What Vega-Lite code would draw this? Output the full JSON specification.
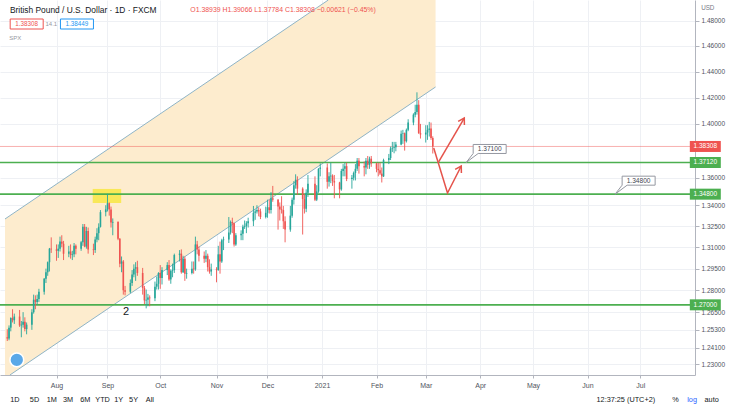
{
"$schema":"https://vega.github.io/schema/vega-lite/v6.json",
"width":695,"height":375,"autosize":"none",
"padding":{"left":0,"top":0,"right":35,"bottom":35},
"background":"#ffffff",
"config":{"view":{"stroke":null},"font":"Liberation Sans","text":{"font":"Liberation Sans"}},
"datasets":{
"candles":[
{"d":"2020-07-06","o":1.2480,"h":1.2534,"l":1.2455,"c":1.2472},
{"d":"2020-07-07","o":1.2472,"h":1.2560,"l":1.2460,"c":1.2545},
{"d":"2020-07-08","o":1.2545,"h":1.2615,"l":1.2520,"c":1.2610},
{"d":"2020-07-09","o":1.2610,"h":1.2670,"l":1.2580,"c":1.2595},
{"d":"2020-07-10","o":1.2595,"h":1.2640,"l":1.2570,"c":1.2620},
{"d":"2020-07-13","o":1.2620,"h":1.2665,"l":1.2550,"c":1.2560},
{"d":"2020-07-14","o":1.2560,"h":1.2590,"l":1.2480,"c":1.2565},
{"d":"2020-07-15","o":1.2565,"h":1.2650,"l":1.2545,"c":1.2585},
{"d":"2020-07-16","o":1.2585,"h":1.2615,"l":1.2520,"c":1.2535},
{"d":"2020-07-17","o":1.2535,"h":1.2580,"l":1.2500,"c":1.2565},
{"d":"2020-07-20","o":1.2565,"h":1.2670,"l":1.2530,"c":1.2650},
{"d":"2020-07-21","o":1.2650,"h":1.2770,"l":1.2640,"c":1.2735},
{"d":"2020-07-22","o":1.2735,"h":1.2765,"l":1.2670,"c":1.2720},
{"d":"2020-07-23","o":1.2720,"h":1.2770,"l":1.2700,"c":1.2740},
{"d":"2020-07-24","o":1.2740,"h":1.2810,"l":1.2720,"c":1.2790},
{"d":"2020-07-27","o":1.2790,"h":1.2885,"l":1.2770,"c":1.2880},
{"d":"2020-07-28","o":1.2880,"h":1.2950,"l":1.2850,"c":1.2925},
{"d":"2020-07-29","o":1.2925,"h":1.3000,"l":1.2900,"c":1.2995},
{"d":"2020-07-30","o":1.2995,"h":1.3095,"l":1.2930,"c":1.3090},
{"d":"2020-07-31","o":1.3090,"h":1.3170,"l":1.3060,"c":1.3085},
{"d":"2020-08-03","o":1.3085,"h":1.3120,"l":1.3005,"c":1.3075},
{"d":"2020-08-04","o":1.3075,"h":1.3120,"l":1.3025,"c":1.3090},
{"d":"2020-08-05","o":1.3090,"h":1.3175,"l":1.3070,"c":1.3140},
{"d":"2020-08-06","o":1.3140,"h":1.3185,"l":1.3100,"c":1.3125},
{"d":"2020-08-07","o":1.3125,"h":1.3145,"l":1.3010,"c":1.3055},
{"d":"2020-08-10","o":1.3055,"h":1.3110,"l":1.3030,"c":1.3070},
{"d":"2020-08-11","o":1.3070,"h":1.3120,"l":1.3020,"c":1.3045},
{"d":"2020-08-12","o":1.3045,"h":1.3075,"l":1.3010,"c":1.3050},
{"d":"2020-08-13","o":1.3050,"h":1.3130,"l":1.3030,"c":1.3110},
{"d":"2020-08-14","o":1.3110,"h":1.3120,"l":1.3050,"c":1.3090},
{"d":"2020-08-17","o":1.3090,"h":1.3145,"l":1.3075,"c":1.3135},
{"d":"2020-08-18","o":1.3135,"h":1.3265,"l":1.3110,"c":1.3245},
{"d":"2020-08-19","o":1.3245,"h":1.3265,"l":1.3100,"c":1.3105},
{"d":"2020-08-20","o":1.3105,"h":1.3245,"l":1.3090,"c":1.3215},
{"d":"2020-08-21","o":1.3215,"h":1.3240,"l":1.3055,"c":1.3085},
{"d":"2020-08-24","o":1.3085,"h":1.3125,"l":1.3045,"c":1.3080},
{"d":"2020-08-25","o":1.3080,"h":1.3175,"l":1.3060,"c":1.3155},
{"d":"2020-08-26","o":1.3155,"h":1.3235,"l":1.3135,"c":1.3200},
{"d":"2020-08-27","o":1.3200,"h":1.3270,"l":1.3150,"c":1.3245},
{"d":"2020-08-28","o":1.3245,"h":1.3365,"l":1.3240,"c":1.3350},
{"d":"2020-08-31","o":1.3350,"h":1.3400,"l":1.3320,"c":1.3370},
{"d":"2020-09-01","o":1.3370,"h":1.3482,"l":1.3355,"c":1.3415},
{"d":"2020-09-02","o":1.3415,"h":1.3420,"l":1.3325,"c":1.3370},
{"d":"2020-09-03","o":1.3370,"h":1.3390,"l":1.3240,"c":1.3275},
{"d":"2020-09-04","o":1.3275,"h":1.3305,"l":1.3185,"c":1.3280},
{"d":"2020-09-07","o":1.3280,"h":1.3285,"l":1.3150,"c":1.3160},
{"d":"2020-09-08","o":1.3160,"h":1.3165,"l":1.2960,"c":1.2985},
{"d":"2020-09-09","o":1.2985,"h":1.3035,"l":1.2925,"c":1.3000},
{"d":"2020-09-10","o":1.3000,"h":1.3010,"l":1.2770,"c":1.2800},
{"d":"2020-09-11","o":1.2800,"h":1.2830,"l":1.2765,"c":1.2790},
{"d":"2020-09-14","o":1.2790,"h":1.2875,"l":1.2780,"c":1.2850},
{"d":"2020-09-15","o":1.2850,"h":1.2940,"l":1.2830,"c":1.2910},
{"d":"2020-09-16","o":1.2910,"h":1.2980,"l":1.2890,"c":1.2950},
{"d":"2020-09-17","o":1.2950,"h":1.2995,"l":1.2865,"c":1.2960},
{"d":"2020-09-18","o":1.2960,"h":1.3005,"l":1.2900,"c":1.2920},
{"d":"2020-09-21","o":1.2920,"h":1.2955,"l":1.2770,"c":1.2815},
{"d":"2020-09-22","o":1.2815,"h":1.2830,"l":1.2705,"c":1.2730},
{"d":"2020-09-23","o":1.2730,"h":1.2805,"l":1.2676,"c":1.2735},
{"d":"2020-09-24","o":1.2735,"h":1.2775,"l":1.2690,"c":1.2750},
{"d":"2020-09-25","o":1.2750,"h":1.2765,"l":1.2690,"c":1.2745},
{"d":"2020-09-28","o":1.2745,"h":1.2860,"l":1.2725,"c":1.2825},
{"d":"2020-09-29","o":1.2825,"h":1.2895,"l":1.2805,"c":1.2845},
{"d":"2020-09-30","o":1.2845,"h":1.2925,"l":1.2805,"c":1.2920},
{"d":"2020-10-01","o":1.2920,"h":1.2975,"l":1.2810,"c":1.2885},
{"d":"2020-10-02","o":1.2885,"h":1.2960,"l":1.2840,"c":1.2940},
{"d":"2020-10-05","o":1.2940,"h":1.2995,"l":1.2905,"c":1.2975},
{"d":"2020-10-06","o":1.2975,"h":1.3010,"l":1.2865,"c":1.2875},
{"d":"2020-10-07","o":1.2875,"h":1.2945,"l":1.2845,"c":1.2935},
{"d":"2020-10-08","o":1.2935,"h":1.2985,"l":1.2890,"c":1.2940},
{"d":"2020-10-09","o":1.2940,"h":1.3055,"l":1.2920,"c":1.3045},
{"d":"2020-10-12","o":1.3045,"h":1.3080,"l":1.3000,"c":1.3055},
{"d":"2020-10-13","o":1.3055,"h":1.3085,"l":1.2915,"c":1.2925},
{"d":"2020-10-14","o":1.2925,"h":1.3040,"l":1.2920,"c":1.3020},
{"d":"2020-10-15","o":1.3020,"h":1.3035,"l":1.2865,"c":1.2915},
{"d":"2020-10-16","o":1.2915,"h":1.2950,"l":1.2880,"c":1.2920},
{"d":"2020-10-19","o":1.2920,"h":1.3000,"l":1.2910,"c":1.2950},
{"d":"2020-10-20","o":1.2950,"h":1.3000,"l":1.2915,"c":1.2945},
{"d":"2020-10-21","o":1.2945,"h":1.3175,"l":1.2935,"c":1.3120},
{"d":"2020-10-22","o":1.3120,"h":1.3145,"l":1.3050,"c":1.3085},
{"d":"2020-10-23","o":1.3085,"h":1.3105,"l":1.3000,"c":1.3040},
{"d":"2020-10-26","o":1.3040,"h":1.3070,"l":1.2990,"c":1.3020},
{"d":"2020-10-27","o":1.3020,"h":1.3080,"l":1.2995,"c":1.3040},
{"d":"2020-10-28","o":1.3040,"h":1.3055,"l":1.2930,"c":1.2960},
{"d":"2020-10-29","o":1.2960,"h":1.3015,"l":1.2915,"c":1.2930},
{"d":"2020-10-30","o":1.2930,"h":1.2985,"l":1.2900,"c":1.2945},
{"d":"2020-11-02","o":1.2945,"h":1.2960,"l":1.2855,"c":1.2940},
{"d":"2020-11-03","o":1.2940,"h":1.3110,"l":1.2935,"c":1.3050},
{"d":"2020-11-04","o":1.3050,"h":1.3140,"l":1.2915,"c":1.3000},
{"d":"2020-11-05","o":1.3000,"h":1.3160,"l":1.2990,"c":1.3150},
{"d":"2020-11-06","o":1.3150,"h":1.3175,"l":1.3080,"c":1.3155},
{"d":"2020-11-09","o":1.3155,"h":1.3315,"l":1.3130,"c":1.3205},
{"d":"2020-11-10","o":1.3205,"h":1.3290,"l":1.3190,"c":1.3280},
{"d":"2020-11-11","o":1.3280,"h":1.3310,"l":1.3200,"c":1.3270},
{"d":"2020-11-12","o":1.3270,"h":1.3275,"l":1.3105,"c":1.3120},
{"d":"2020-11-13","o":1.3120,"h":1.3200,"l":1.3110,"c":1.3185},
{"d":"2020-11-16","o":1.3185,"h":1.3220,"l":1.3150,"c":1.3195},
{"d":"2020-11-17","o":1.3195,"h":1.3260,"l":1.3150,"c":1.3245},
{"d":"2020-11-18","o":1.3245,"h":1.3290,"l":1.3230,"c":1.3250},
{"d":"2020-11-19","o":1.3250,"h":1.3285,"l":1.3200,"c":1.3270},
{"d":"2020-11-20","o":1.3270,"h":1.3310,"l":1.3240,"c":1.3285},
{"d":"2020-11-23","o":1.3285,"h":1.3395,"l":1.3250,"c":1.3345},
{"d":"2020-11-24","o":1.3345,"h":1.3370,"l":1.3295,"c":1.3355},
{"d":"2020-11-25","o":1.3355,"h":1.3400,"l":1.3340,"c":1.3365},
{"d":"2020-11-26","o":1.3365,"h":1.3385,"l":1.3320,"c":1.3355},
{"d":"2020-11-27","o":1.3355,"h":1.3375,"l":1.3300,"c":1.3315},
{"d":"2020-11-30","o":1.3315,"h":1.3390,"l":1.3305,"c":1.3345},
{"d":"2020-12-01","o":1.3345,"h":1.3440,"l":1.3310,"c":1.3385},
{"d":"2020-12-02","o":1.3385,"h":1.3440,"l":1.3340,"c":1.3365},
{"d":"2020-12-03","o":1.3365,"h":1.3495,"l":1.3340,"c":1.3450},
{"d":"2020-12-04","o":1.3450,"h":1.3540,"l":1.3425,"c":1.3440},
{"d":"2020-12-07","o":1.3440,"h":1.3445,"l":1.3225,"c":1.3390},
{"d":"2020-12-08","o":1.3390,"h":1.3420,"l":1.3290,"c":1.3370},
{"d":"2020-12-09","o":1.3370,"h":1.3465,"l":1.3340,"c":1.3365},
{"d":"2020-12-10","o":1.3365,"h":1.3395,"l":1.3230,"c":1.3285},
{"d":"2020-12-11","o":1.3285,"h":1.3320,"l":1.3135,"c":1.3225},
{"d":"2020-12-14","o":1.3225,"h":1.3395,"l":1.3210,"c":1.3325},
{"d":"2020-12-15","o":1.3325,"h":1.3455,"l":1.3310,"c":1.3440},
{"d":"2020-12-16","o":1.3440,"h":1.3575,"l":1.3405,"c":1.3545},
{"d":"2020-12-17","o":1.3545,"h":1.3625,"l":1.3520,"c":1.3585},
{"d":"2020-12-18","o":1.3585,"h":1.3610,"l":1.3475,"c":1.3520},
{"d":"2020-12-21","o":1.3520,"h":1.3530,"l":1.3190,"c":1.3445},
{"d":"2020-12-22","o":1.3445,"h":1.3480,"l":1.3340,"c":1.3375},
{"d":"2020-12-23","o":1.3375,"h":1.3515,"l":1.3350,"c":1.3490},
{"d":"2020-12-24","o":1.3490,"h":1.3620,"l":1.3460,"c":1.3555},
{"d":"2020-12-28","o":1.3555,"h":1.3610,"l":1.3430,"c":1.3440},
{"d":"2020-12-29","o":1.3440,"h":1.3545,"l":1.3430,"c":1.3500},
{"d":"2020-12-30","o":1.3500,"h":1.3670,"l":1.3490,"c":1.3665},
{"d":"2020-12-31","o":1.3665,"h":1.3705,"l":1.3610,"c":1.3675},
{"d":"2021-01-04","o":1.3675,"h":1.3705,"l":1.3520,"c":1.3570},
{"d":"2021-01-05","o":1.3570,"h":1.3640,"l":1.3535,"c":1.3610},
{"d":"2021-01-06","o":1.3610,"h":1.3710,"l":1.3560,"c":1.3615},
{"d":"2021-01-07","o":1.3615,"h":1.3625,"l":1.3540,"c":1.3575},
{"d":"2021-01-08","o":1.3575,"h":1.3620,"l":1.3450,"c":1.3565},
{"d":"2021-01-11","o":1.3565,"h":1.3570,"l":1.3450,"c":1.3515},
{"d":"2021-01-12","o":1.3515,"h":1.3665,"l":1.3505,"c":1.3650},
{"d":"2021-01-13","o":1.3650,"h":1.3700,"l":1.3610,"c":1.3665},
{"d":"2021-01-14","o":1.3665,"h":1.3710,"l":1.3610,"c":1.3685},
{"d":"2021-01-15","o":1.3685,"h":1.3710,"l":1.3575,"c":1.3590},
{"d":"2021-01-18","o":1.3590,"h":1.3620,"l":1.3520,"c":1.3600},
{"d":"2021-01-19","o":1.3600,"h":1.3645,"l":1.3580,"c":1.3635},
{"d":"2021-01-20","o":1.3635,"h":1.3700,"l":1.3580,"c":1.3665},
{"d":"2021-01-21","o":1.3665,"h":1.3745,"l":1.3650,"c":1.3725},
{"d":"2021-01-22","o":1.3725,"h":1.3745,"l":1.3630,"c":1.3685},
{"d":"2021-01-25","o":1.3685,"h":1.3720,"l":1.3610,"c":1.3675},
{"d":"2021-01-26","o":1.3675,"h":1.3745,"l":1.3625,"c":1.3725},
{"d":"2021-01-27","o":1.3725,"h":1.3760,"l":1.3665,"c":1.3695},
{"d":"2021-01-28","o":1.3695,"h":1.3755,"l":1.3665,"c":1.3740},
{"d":"2021-01-29","o":1.3740,"h":1.3760,"l":1.3680,"c":1.3705},
{"d":"2021-02-01","o":1.3705,"h":1.3710,"l":1.3640,"c":1.3665},
{"d":"2021-02-02","o":1.3665,"h":1.3710,"l":1.3610,"c":1.3655},
{"d":"2021-02-03","o":1.3655,"h":1.3710,"l":1.3620,"c":1.3630},
{"d":"2021-02-04","o":1.3630,"h":1.3675,"l":1.3565,"c":1.3610},
{"d":"2021-02-05","o":1.3610,"h":1.3740,"l":1.3605,"c":1.3730},
{"d":"2021-02-08","o":1.3730,"h":1.3775,"l":1.3700,"c":1.3745},
{"d":"2021-02-09","o":1.3745,"h":1.3830,"l":1.3730,"c":1.3815},
{"d":"2021-02-10","o":1.3815,"h":1.3865,"l":1.3790,"c":1.3820},
{"d":"2021-02-11","o":1.3820,"h":1.3865,"l":1.3780,"c":1.3825},
{"d":"2021-02-12","o":1.3825,"h":1.3865,"l":1.3795,"c":1.3845},
{"d":"2021-02-15","o":1.3845,"h":1.3950,"l":1.3840,"c":1.3925},
{"d":"2021-02-16","o":1.3925,"h":1.3955,"l":1.3850,"c":1.3930},
{"d":"2021-02-17","o":1.3930,"h":1.3935,"l":1.3800,"c":1.3870},
{"d":"2021-02-18","o":1.3870,"h":1.3965,"l":1.3860,"c":1.3955},
{"d":"2021-02-19","o":1.3955,"h":1.4035,"l":1.3945,"c":1.4010},
{"d":"2021-02-22","o":1.4010,"h":1.4080,"l":1.3990,"c":1.4070},
{"d":"2021-02-23","o":1.4070,"h":1.4145,"l":1.4050,"c":1.4090},
{"d":"2021-02-24","o":1.4090,"h":1.4240,"l":1.4070,"c":1.4145},
{"d":"2021-02-25","o":1.4145,"h":1.4180,"l":1.3925,"c":1.3930},
{"d":"2021-02-26","o":1.3930,"h":1.4000,"l":1.3890,"c":1.3920},
{"d":"2021-03-01","o":1.3920,"h":1.3990,"l":1.3860,"c":1.3935},
{"d":"2021-03-02","o":1.3935,"h":1.3990,"l":1.3880,"c":1.3955},
{"d":"2021-03-03","o":1.3955,"h":1.4015,"l":1.3905,"c":1.3965},
{"d":"2021-03-04","o":1.3965,"h":1.4010,"l":1.3880,"c":1.3894},
{"d":"2021-03-05","o":1.38939,"h":1.39066,"l":1.37784,"c":1.38308}
],
"levels":[{"p":1.3712},{"p":1.348},{"p":1.27}],
"pricetags":[
{"p":1.38308,"label":"1.38308","kind":"last"},
{"p":1.3712,"label":"1.37120","kind":"level"},
{"p":1.348,"label":"1.34800","kind":"level"},
{"p":1.27,"label":"1.27000","kind":"level"}
],
"arrows":[
{"id":"a1","i":0,"d":"2021-03-08T08:00:00Z","p":1.3716},
{"id":"a1","i":1,"d":"2021-03-22T22:00:00Z","p":1.4044},
{"id":"a2","i":0,"d":"2021-03-05T13:00:00Z","p":1.3820},
{"id":"a2","i":1,"d":"2021-03-13T09:00:00Z","p":1.3488},
{"id":"a2","i":2,"d":"2021-03-21T05:00:00Z","p":1.3686}
],
"heads":[
{"d":"2021-03-22T22:00:00Z","p":1.4044},
{"d":"2021-03-21T05:00:00Z","p":1.3686}
],
"callouts":[
{"d":"2021-03-24T00:00:00Z","p":1.3712,"label":"1.37100"},
{"d":"2021-06-16T17:00:00Z","p":1.348,"label":"1.34800"}
],
"toolbar":[
{"d":"2020-07-10T07:00:00Z","p":1.20658,"label":"1D","kind":"n"},
{"d":"2020-07-21T12:00:00Z","p":1.20658,"label":"5D","kind":"n"},
{"d":"2020-07-31T08:00:00Z","p":1.20658,"label":"1M","kind":"n"},
{"d":"2020-08-09T14:00:00Z","p":1.20658,"label":"3M","kind":"n"},
{"d":"2020-08-19T09:00:00Z","p":1.20658,"label":"6M","kind":"n"},
{"d":"2020-08-29T05:00:00Z","p":1.20658,"label":"YTD","kind":"n"},
{"d":"2020-09-07T10:00:00Z","p":1.20658,"label":"1Y","kind":"n"},
{"d":"2020-09-15T20:00:00Z","p":1.20658,"label":"5Y","kind":"n"},
{"d":"2020-09-25T02:00:00Z","p":1.20658,"label":"All","kind":"n"},
{"d":"2021-06-22T19:00:00Z","p":1.20658,"label":"12:37:25 (UTC+2)","kind":"n"},
{"d":"2021-07-21T00:00:00Z","p":1.20658,"label":"%","kind":"n"},
{"d":"2021-07-30T12:00:00Z","p":1.20658,"label":"log","kind":"on"},
{"d":"2021-08-10T14:00:00Z","p":1.20658,"label":"auto","kind":"n"}
]
},
"layer":[
{
"data":{"values":[
{"d":"2020-07-04T17:00:00Z","p":1.2229,"p2":1.3301},
{"d":"2020-07-07T12:00:00Z","p":1.2229,"p2":1.3325},
{"d":"2021-01-04T14:00:00Z","p":1.3733,"p2":1.4966},
{"d":"2021-03-06T14:00:00Z","p":1.4281,"p2":1.4966}
]},
"mark":{"type":"area","color":"#fdecce","opacity":1},
"encoding":{
"x":{"field":"d","type":"temporal","title":null,
"scale":{"type":"utc","domain":[{"year":2020,"month":7,"date":4,"hours":17,"utc":true},{"year":2021,"month":7,"date":29,"hours":7,"utc":true}]},
"axis":{"values":[
{"year":2020,"month":8,"date":3,"utc":true},{"year":2020,"month":9,"date":1,"utc":true},{"year":2020,"month":10,"date":1,"utc":true},{"year":2020,"month":11,"date":2,"utc":true},{"year":2020,"month":12,"date":1,"utc":true},{"year":2021,"month":1,"date":1,"utc":true},{"year":2021,"month":2,"date":1,"utc":true},{"year":2021,"month":3,"date":1,"utc":true},{"year":2021,"month":4,"date":1,"utc":true},{"year":2021,"month":5,"date":1,"utc":true},{"year":2021,"month":6,"date":1,"utc":true},{"year":2021,"month":7,"date":1,"utc":true}],
"labelExpr":"utcmonth(datum.value) == 0 ? utcFormat(datum.value, '%Y') : utcFormat(datum.value, '%b')",
"orient":"bottom","title":null,"labelFontSize":7,"labelColor":"#50535e","labelFont":"Liberation Sans","tickSize":3,"tickColor":"#b2b5be","domainColor":"#b2b5be","grid":true,"gridColor":"#eef0f4","labelPadding":3,"labelOverlap":false,"labelFlush":false,"labelAngle":0}},
"y":{"field":"p","type":"quantitative","title":null,
"scale":{"type":"log","domain":[1.2229,1.4966],"nice":false},
"axis":{"orient":"right","title":null,"values":[1.23,1.241,1.253,1.265,1.28,1.295,1.31,1.325,1.34,1.36,1.40,1.42,1.44,1.46,1.48],"format":".5f","labelFontSize":6.5,"labelColor":"#50535e","labelFont":"Liberation Sans","tickSize":4,"tickColor":"#b2b5be","domainColor":"#b2b5be","grid":true,"gridColor":"#eef0f4","labelPadding":2,"labelOverlap":false,"labelFlush":false}},
"y2":{"field":"p2"}
}
},
{
"data":{"values":[{"d":"2020-08-23T14:00:00Z","d2":"2020-09-08T19:00:00Z","p":1.3416,"p2":1.3518}]},
"mark":{"type":"rect","color":"#f9e858","opacity":1},
"encoding":{
"x":{"field":"d","type":"temporal","title":null},
"x2":{"field":"d2"},
"y":{"field":"p","type":"quantitative","title":null},
"y2":{"field":"p2"}
}
},
{
"data":{"values":[
{"id":"upper","d":"2020-07-04T17:00:00Z","p":1.3301},
{"id":"upper","d":"2021-01-04T14:00:00Z","p":1.4966},
{"id":"lower","d":"2020-07-07T12:00:00Z","p":1.2229},
{"id":"lower","d":"2021-03-06T14:00:00Z","p":1.4281}
]},
"mark":{"type":"line","color":"#8fb4c6","strokeWidth":1},
"encoding":{
"x":{"field":"d","type":"temporal","title":null},
"y":{"field":"p","type":"quantitative","title":null},
"detail":{"field":"id"}
}
},
{
"data":{"values":[{"p":1.38308}]},
"mark":{"type":"rule","color":"#ef5350","opacity":0.45,"strokeWidth":1},
"encoding":{"y":{"field":"p","type":"quantitative","title":null}}
},
{
"data":{"name":"levels"},
"mark":{"type":"rule","color":"#4caf50","strokeWidth":1.6},
"encoding":{"y":{"field":"p","type":"quantitative","title":null}}
},
{
"data":{"name":"candles"},
"mark":{"type":"rule","strokeWidth":0.9},
"encoding":{
"x":{"field":"d","type":"temporal","title":null},
"y":{"field":"l","type":"quantitative","title":null},
"y2":{"field":"h"},
"color":{"condition":{"test":"datum.c >= datum.o","value":"#26a69a"},"value":"#ef5350"}
}
},
{
"data":{"name":"candles"},
"mark":{"type":"bar","size":1.6},
"encoding":{
"x":{"field":"d","type":"temporal","title":null},
"y":{"field":"o","type":"quantitative","title":null},
"y2":{"field":"c"},
"color":{"condition":{"test":"datum.c >= datum.o","value":"#26a69a"},"value":"#ef5350"}
}
},
{
"data":{"name":"arrows"},
"mark":{"type":"line","color":"#e5534b","strokeWidth":1.5},
"encoding":{
"x":{"field":"d","type":"temporal","title":null},
"y":{"field":"p","type":"quantitative","title":null},
"detail":{"field":"id"},
"order":{"field":"i"}
}
},
{
"data":{"name":"heads"},
"mark":{"type":"point","shape":"M-0.6,1L0,0L0.6,1","filled":false,"color":"#e5534b","strokeWidth":1.5,"size":144,"angle":30,"opacity":1},
"encoding":{
"x":{"field":"d","type":"temporal","title":null},
"y":{"field":"p","type":"quantitative","title":null}
}
},
{
"data":{"name":"callouts"},
"mark":{"type":"point","shape":"M0,0L0.35,-0.45L0.35,-0.9L2,-0.9L2,-0.45L0.6,-0.45Z","filled":true,"fill":"#ffffff","stroke":"#9598a1","strokeWidth":1,"size":1600,"opacity":1},
"encoding":{
"x":{"field":"d","type":"temporal","title":null},
"y":{"field":"p","type":"quantitative","title":null}
}
},
{
"data":{"name":"callouts"},
"mark":{"type":"text","fontSize":6.6,"color":"#434651","dx":23.5,"dy":-13.5,"align":"center","baseline":"middle"},
"encoding":{
"x":{"field":"d","type":"temporal","title":null},
"y":{"field":"p","type":"quantitative","title":null},
"text":{"field":"label"}
}
},
{
"data":{"values":[{"d":"2020-09-11T15:00:00Z","p":1.26513,"label":"2"}]},
"mark":{"type":"text","fontSize":11,"color":"#131722","align":"center","baseline":"middle"},
"encoding":{
"x":{"field":"d","type":"temporal","title":null},
"y":{"field":"p","type":"quantitative","title":null},
"text":{"field":"label"}
}
},
{
"data":{"name":"pricetags"},
"mark":{"type":"point","shape":"M-1,-0.355L1,-0.355L1,0.355L-1,0.355Z","filled":true,"size":961,"opacity":1},
"encoding":{
"x":{"datum":{"year":2021,"month":8,"date":7,"utc":true},"type":"temporal","title":null},
"y":{"field":"p","type":"quantitative","title":null},
"color":{"condition":{"test":"datum.kind == 'last'","value":"#ef5350"},"value":"#4caf50"}
}
},
{
"data":{"name":"pricetags"},
"mark":{"type":"text","fontSize":6.5,"color":"#ffffff","align":"center","baseline":"middle"},
"encoding":{
"x":{"datum":{"year":2021,"month":8,"date":7,"utc":true},"type":"temporal","title":null},
"y":{"field":"p","type":"quantitative","title":null},
"text":{"field":"label"}
}
},
{
"data":{"values":[{"d":"2021-08-08T09:30:00Z","p":1.49016,"label":"USD"}]},
"mark":{"type":"text","fontSize":6.3,"color":"#787b86","align":"center","baseline":"middle"},
"encoding":{
"x":{"field":"d","type":"temporal","title":null},
"y":{"field":"p","type":"quantitative","title":null},
"text":{"field":"label"}
}
},
{
"data":{"values":[{"d":"2020-07-07T12:00:00Z","p":1.48856,"label":"British Pound / U.S. Dollar · 1D · FXCM"}]},
"mark":{"type":"text","fontSize":8.4,"color":"#131722","align":"left","baseline":"middle"},
"encoding":{
"x":{"field":"d","type":"temporal","title":null},
"y":{"field":"p","type":"quantitative","title":null},
"text":{"field":"label"}
}
},
{
"data":{"values":[{"d":"2020-10-18T02:00:00Z","p":1.48856,"label":"O1.38939 H1.39066 L1.37784 C1.38308 −0.00621 (−0.45%)"}]},
"mark":{"type":"text","fontSize":6.9,"color":"#ef5350","align":"left","baseline":"middle"},
"encoding":{
"x":{"field":"d","type":"temporal","title":null},
"y":{"field":"p","type":"quantitative","title":null},
"text":{"field":"label"}
}
},
{
"data":{"values":[{"d":"2020-07-17T01:00:00Z","p":1.47737,"label":"1.38308","kind":"sell"},{"d":"2020-08-14T15:00:00Z","p":1.47737,"label":"1.38449","kind":"buy"}]},
"mark":{"type":"point","shape":"M-1,-0.303L1,-0.303L1,0.303L-1,0.303Z","filled":true,"fill":"#ffffff","size":1089,"strokeWidth":1,"opacity":1},
"encoding":{
"x":{"field":"d","type":"temporal","title":null},
"y":{"field":"p","type":"quantitative","title":null},
"stroke":{"condition":{"test":"datum.kind == 'sell'","value":"#ef5350"},"value":"#2196f3"}
}
},
{
"data":{"values":[{"d":"2020-07-17T01:00:00Z","p":1.47737,"label":"1.38308","kind":"sell"},{"d":"2020-08-14T15:00:00Z","p":1.47737,"label":"1.38449","kind":"buy"}]},
"mark":{"type":"text","fontSize":6.3,"align":"center","baseline":"middle"},
"encoding":{
"x":{"field":"d","type":"temporal","title":null},
"y":{"field":"p","type":"quantitative","title":null},
"text":{"field":"label"},
"color":{"condition":{"test":"datum.kind == 'sell'","value":"#ef5350"},"value":"#2196f3"}
}
},
{
"data":{"values":[{"d":"2020-07-31T01:00:00Z","p":1.47737,"label":"14.1"},{"d":"2020-07-10T14:00:00Z","p":1.46628,"label":"SPX"}]},
"mark":{"type":"text","fontSize":6,"color":"#9598a1","align":"center","baseline":"middle"},
"encoding":{
"x":{"field":"d","type":"temporal","title":null},
"y":{"field":"p","type":"quantitative","title":null},
"text":{"field":"label"}
}
},
{
"data":{"values":[{"d":"2020-07-11T10:00:00Z","p":1.23286}]},
"mark":{"type":"point","shape":"circle","filled":true,"fill":"#5aa8e8","stroke":"#ffffff","strokeWidth":1.5,"size":190,"opacity":1},
"encoding":{
"x":{"field":"d","type":"temporal","title":null},
"y":{"field":"p","type":"quantitative","title":null}
}
},
{
"data":{"name":"toolbar"},
"mark":{"type":"text","fontSize":7.3,"align":"center","baseline":"middle"},
"encoding":{
"x":{"field":"d","type":"temporal","title":null},
"y":{"field":"p","type":"quantitative","title":null},
"text":{"field":"label"},
"color":{"condition":{"test":"datum.kind == 'on'","value":"#2962ff"},"value":"#131722"}
}
}
]
}
